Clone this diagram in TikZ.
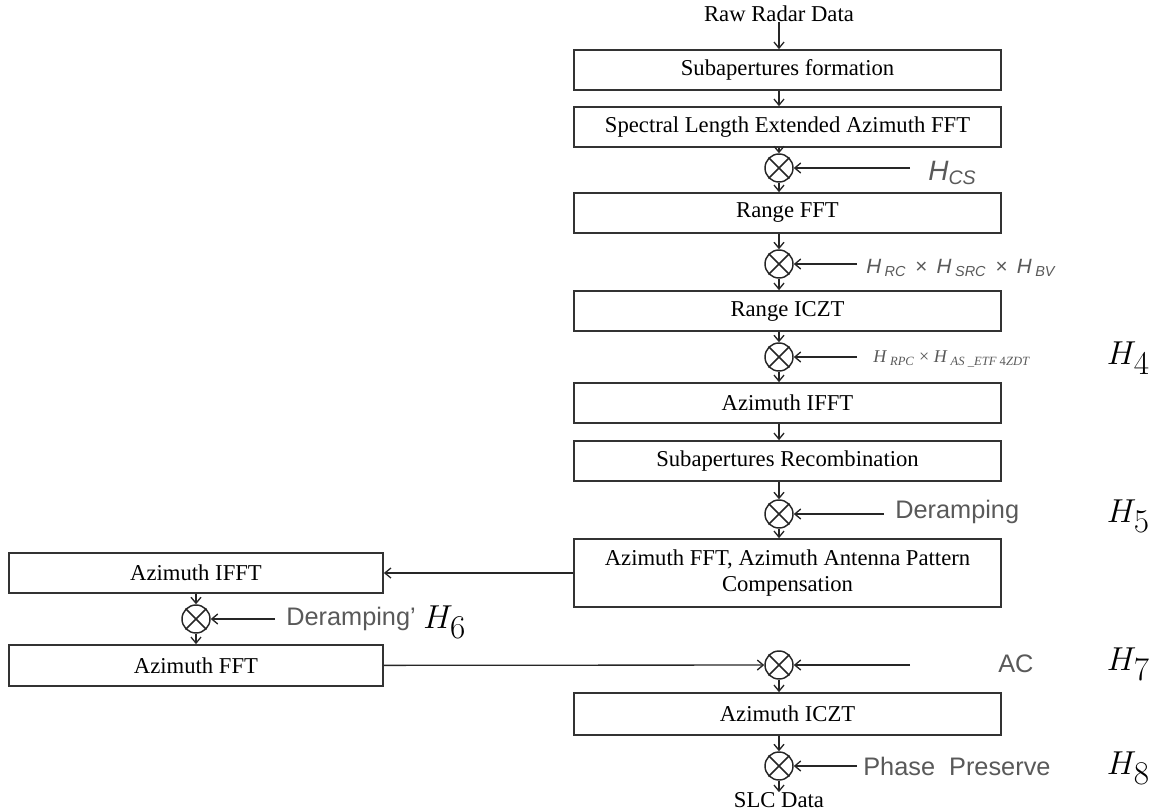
\documentclass[tikz,border=0pt]{standalone}
\usepackage{fontspec}
\setmainfont{Liberation Serif}
\setsansfont{Liberation Sans}
\usetikzlibrary{arrows.meta,positioning}

\begin{document}
\begin{tikzpicture}[x=0.75pt, y=-0.75pt,
    >={Straight Barb[length=4.5pt,width=7.5pt]},
    block/.style={rectangle, draw=black!80, line width=1.3pt, minimum width=320pt, minimum height=30pt, inner sep=0pt, align=center, font=\fontsize{17}{19.5}\selectfont},
    mult/.style={circle, draw=black!85, line width=1.1pt, minimum size=21pt, inner sep=0pt},
    flow/.style={->, line width=1pt, draw=black!85},
    glabel/.style={anchor=west, inner sep=0pt, text=black!65, font=\sffamily\fontsize{19}{22}\selectfont},
    hlabel/.style={anchor=east, inner sep=0pt, font=\fontsize{33}{34}\selectfont}]

    \useasboundingbox (0,0) rectangle (1152,810);

    % Main column
    \node[font=\fontsize{17}{19.5}\selectfont, inner sep=0pt] (raw) at (779,14) {Raw Radar Data};
    \node[block] (form) at (787.5,70) {Subapertures formation};
    \node[block] (slext) at (787.5,127) {Spectral Length Extended Azimuth FFT};
    \node[mult] (c1) at (779,168) {};
    \node[block] (rfft) at (787.5,213) {Range FFT};
    \node[mult] (c2) at (779,264) {};
    \node[block] (riczt) at (787.5,311) {Range ICZT};
    \node[mult] (c3) at (779,357) {};
    \node[block] (aifft) at (787.5,403) {Azimuth IFFT};
    \node[block] (recomb) at (787.5,461) {Subapertures Recombination};
    \node[mult] (c4) at (779,514) {};
    \node[block, minimum height=51pt] (aapc) at (787.5,573) {Azimuth FFT, Azimuth Antenna Pattern\\Compensation};
    \node[mult] (c6) at (779,665) {};
    \node[block, minimum height=31.5pt] (aiczt) at (787.5,714) {Azimuth ICZT};
    \node[mult] (c7) at (779,766) {};
    \node[font=\fontsize{17}{19.5}\selectfont, inner sep=0pt] (slc) at (779,800) {SLC Data};

    % Left branch
    \node[block, minimum width=280.5pt] (lifft) at (196,573) {Azimuth IFFT};
    \node[mult] (c5) at (196,619) {};
    \node[block, minimum width=280.5pt, minimum height=30.75pt] (lfft) at (196,665.5) {Azimuth FFT};

    \foreach \c in {c1,c2,c3,c4,c5,c6,c7}
        \draw[line width=1.1pt, black!85] (\c.north east) -- (\c.south west) (\c.north west) -- (\c.south east);

    % Multiplier inputs
    \coordinate (e1) at (910,168);
    \coordinate (e2) at (857,264);
    \coordinate (e3) at (857,357);
    \coordinate (e4) at (884,514);
    \coordinate (e5) at (275,619);
    \coordinate (e6) at (910,665);
    \coordinate (e7) at (857,766);

    \node[glabel, font=\sffamily\fontsize{21}{24}\selectfont] (hcs) at (928,173) {\textit{H}\textsubscript{\textit{CS}}};
    \node[glabel, font=\sffamily\fontsize{15.5}{17}\selectfont] (hrc) at (866,268) {\textit{H}\,\textsubscript{\textit{RC}} \,×\, \textit{H}\,\textsubscript{\textit{SRC}} \,×\, \textit{H}\,\textsubscript{\textit{BV}}};
    \node[glabel, font=\fontsize{13.5}{15}\selectfont] (hrpc) at (873,359) {\textit{H}\,\textsubscript{\textit{RPC}} × \textit{H}\,\textsubscript{\textit{AS \_ETF} 4\textit{ZDT}}};
    \node[glabel] (deramp) at (895,512) {Deramping};
    \node[glabel] (deramp2) at (286,619) {Deramping'};
    \node[glabel] (ac) at (998,664) {AC};
    \node[glabel] (pp) at (863,766) {Phase~~Preserve};

    \node[hlabel] (h4) at (1150,358) {$H_4$};
    \node[hlabel] (h5) at (1150,516) {$H_5$};
    \node[hlabel, anchor=west] (h6) at (423,622) {$H_6$};
    \node[hlabel] (h7) at (1150,664) {$H_7$};
    \node[hlabel] (h8) at (1150,768) {$H_8$};

    % Arrows
    \draw[flow] (raw) -- (form.north -| raw);
    \draw[flow] (form.south -| raw) -- (slext.north -| raw);
    \draw[flow] (slext.south -| c1) -- (c1);
    \draw[flow] (c1) -- (rfft.north -| c1);
    \draw[flow] (rfft.south -| c2) -- (c2);
    \draw[flow] (c2) -- (riczt.north -| c2);
    \draw[flow] (riczt.south -| c3) -- (c3);
    \draw[flow] (c3) -- (aifft.north -| c3);
    \draw[flow] (aifft.south -| c3) -- (recomb.north -| c3);
    \draw[flow] (recomb.south -| c4) -- (c4);
    \draw[flow] (c4) -- (aapc.north -| c4);
    \draw[flow] (aapc.west) -- (lifft.east);
    \draw[flow] (lifft) -- (c5);
    \draw[flow] (c5) -- (lfft);
    \draw[flow] (lfft) -- (c6);
    \draw[flow] (c6) -- (aiczt.north -| c6);
    \draw[flow] (aiczt.south -| c7) -- (c7);
    \draw[flow] (c7) -- (slc);
    \foreach \i in {1,...,7}
        \draw[flow] (e\i) -- (c\i);

\end{tikzpicture}
\end{document}
